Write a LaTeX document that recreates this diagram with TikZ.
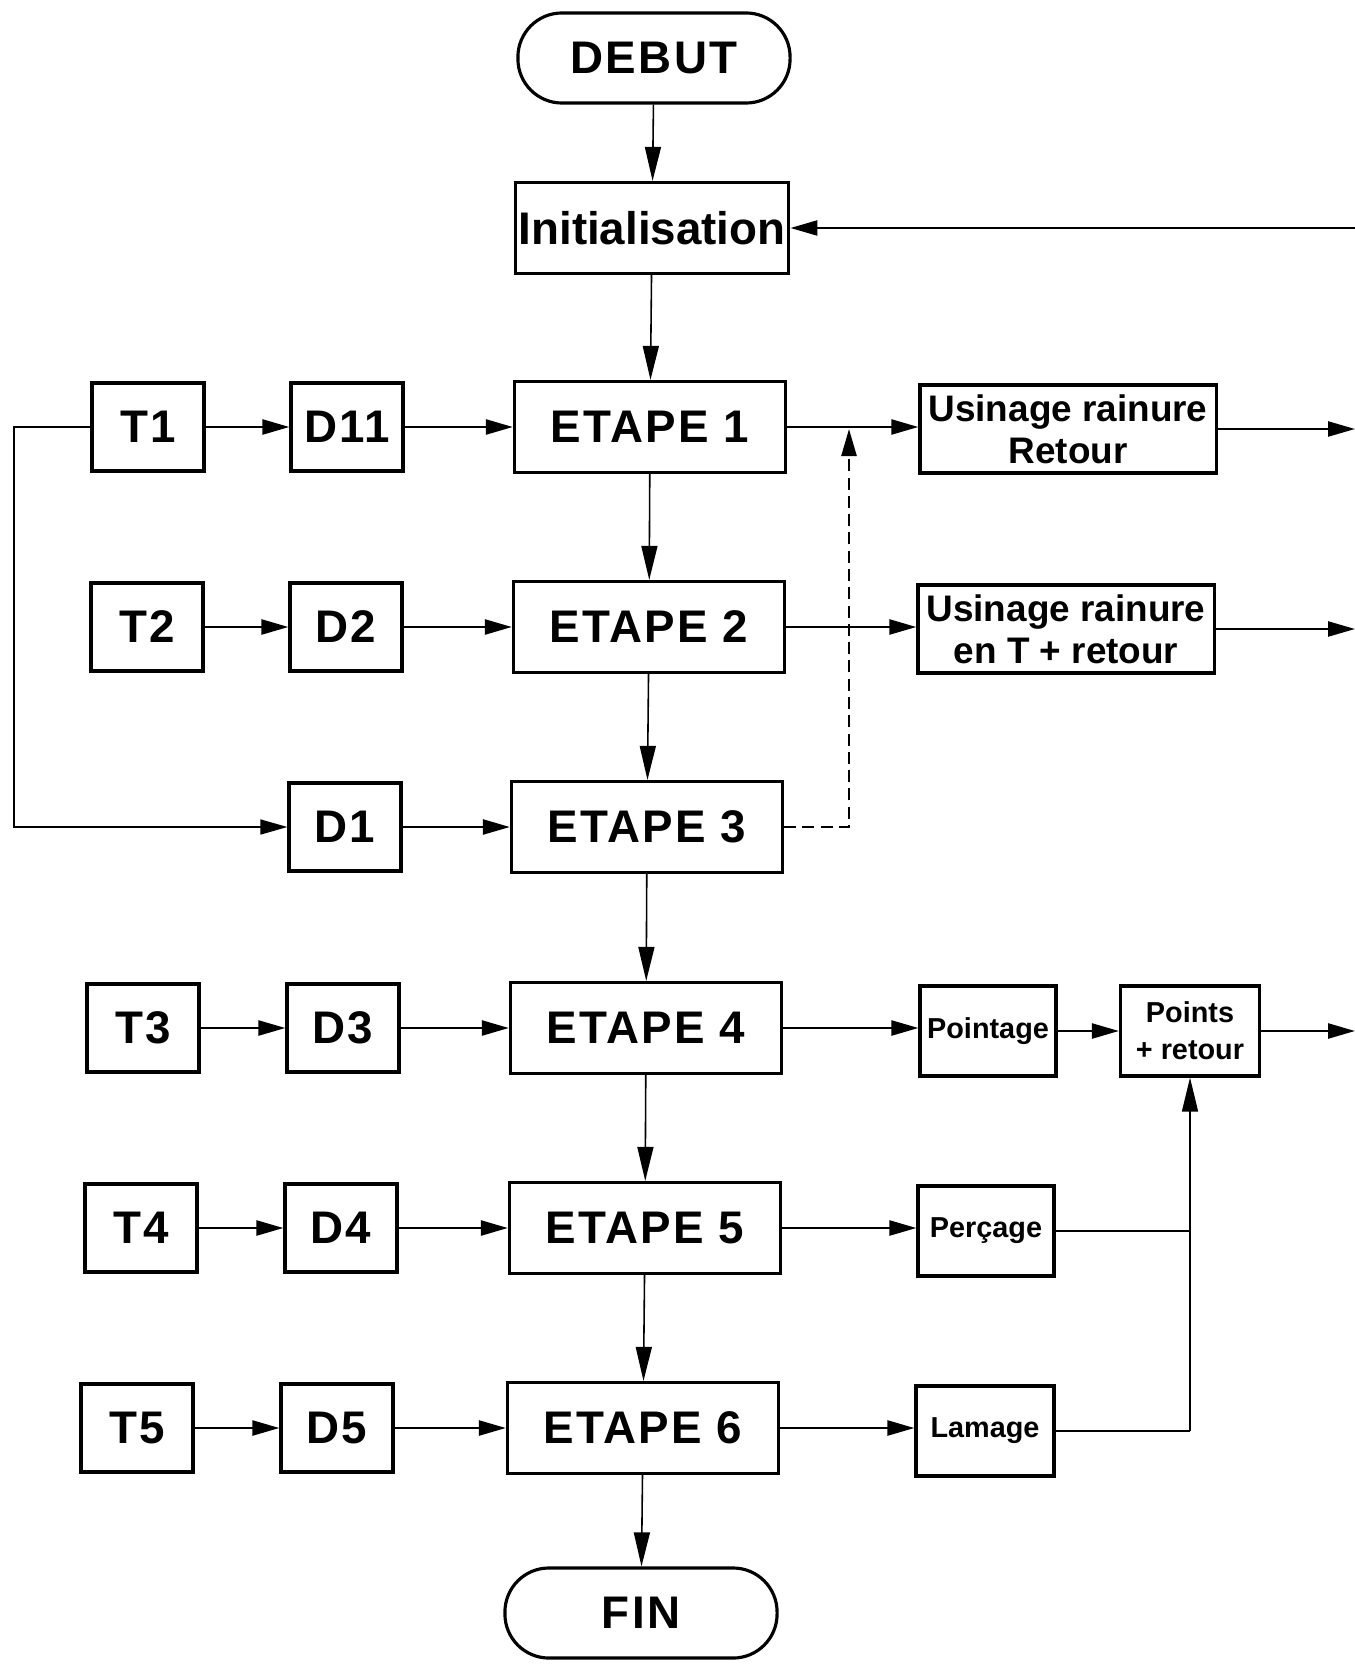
\documentclass[tikz,border=0pt]{standalone}
\usepackage{fontspec}
\setmainfont{Liberation Sans}
\usepackage{tikz}
\usetikzlibrary{arrows.meta,positioning}

\begin{document}
\begin{tikzpicture}[x=0.01cm,y=-0.01cm,>={Triangle[length=0.27cm,width=0.15cm]},
  big/.style={font=\fontsize{13}{15}\selectfont\bfseries\addfontfeatures{LetterSpace=5}},
  term/.style={draw,line width=0.9pt,big,rounded corners=0.44cm,minimum width=2.72cm,minimum height=0.9cm},
  etape/.style={draw,line width=0.9pt,big,minimum width=2.71cm,minimum height=0.91cm,inner sep=1pt},
  tbox/.style={draw,line width=0.9pt,big,minimum width=1.12cm,minimum height=0.88cm,inner sep=1pt},
  usin/.style={draw,line width=0.9pt,minimum width=2.96cm,minimum height=0.88cm,inner sep=1pt,align=center,
    font=\fontsize{10.5}{12}\selectfont\bfseries},
  op/.style={draw,line width=0.9pt,minimum width=1.36cm,minimum height=0.9cm,inner sep=1pt,align=center,
    font=\fontsize{8.2}{10.5}\selectfont\bfseries},
  fl/.style={->,line width=0.7pt},
  vfl/.style={-{Triangle[length=0.34cm,width=0.16cm]},line width=0.45pt}]

\useasboundingbox (0,0) rectangle (1355,1664);

% colonne centrale
\node[term] (debut) at (654,58) {DEBUT};
\node[etape,big,font=\fontsize{13}{15}\selectfont\bfseries] (init) at (652,228) {Initialisation};
\node[etape] (e1) at (650,427) {ETAPE 1};
\node[etape] (e2) at (649,627) {ETAPE 2};
\node[etape] (e3) at (647,827) {ETAPE 3};
\node[etape] (e4) at (646,1028) {ETAPE 4};
\node[etape] (e5) at (645,1228) {ETAPE 5};
\node[etape] (e6) at (643,1428) {ETAPE 6};
\node[term] (fin) at (641,1613) {FIN};

% temps et durees
\node[tbox] (t1) at (148,427) {T1};
\node[tbox] (d11) at (347,427) {D11};
\node[tbox] (t2) at (147,627) {T2};
\node[tbox] (d2) at (346,627) {D2};
\node[tbox] (d1) at (345,827) {D1};
\node[tbox] (t3) at (143,1028) {T3};
\node[tbox] (d3) at (343,1028) {D3};
\node[tbox] (t4) at (141,1228) {T4};
\node[tbox] (d4) at (341,1228) {D4};
\node[tbox] (t5) at (137,1428) {T5};
\node[tbox] (d5) at (337,1428) {D5};

% operations
\node[usin] (u1) at (1068,429) {Usinage rainure\\Retour};
\node[usin] (u2) at (1066,629) {Usinage rainure\\en T + retour};
\node[op] (pt) at (988,1031) {Pointage};
\node[op,minimum width=1.39cm] (pr) at (1190,1031) {Points\\+ retour};
\node[op] (pc) at (986,1231) {Perçage};
\node[op,minimum width=1.38cm] (lm) at (985,1431) {Lamage};

% points libres
\coordinate (r0) at (1355,228);
\coordinate (r1) at (1355,429);
\coordinate (r2) at (1355,629);
\coordinate (r4) at (1355,1031);
\coordinate (j1) at (849,429);
\coordinate (lp) at (14,427);

% liaisons verticales
\draw[vfl] (debut) -- (init);
\draw[vfl] (init) -- (e1);
\draw[vfl] (e1) -- (e2);
\draw[vfl] (e2) -- (e3);
\draw[vfl] (e3) -- (e4);
\draw[vfl] (e4) -- (e5);
\draw[vfl] (e5) -- (e6);
\draw[vfl] (e6) -- (fin);

% liaisons horizontales
\draw[fl] (t1) -- (d11);
\draw[fl] (d11) -- (e1);
\draw[fl] (e1.east) -- (u1.west |- e1.east);
\draw[fl] (u1.east |- r1) -- (r1);
\draw[fl] (r0) -- (init);
\draw[fl] (t2) -- (d2);
\draw[fl] (d2) -- (e2);
\draw[fl] (e2.east) -- (u2.west |- e2.east);
\draw[fl] (u2.east |- r2) -- (r2);
\draw[line width=0.45pt,->] (t1.west) -- (lp) |- (d1.west);
\draw[fl] (d1) -- (e3);
\draw[line width=0.7pt,dash pattern=on 3.4pt off 1.8pt,->] (e3.east) -| (j1);
\draw[fl] (t3) -- (d3);
\draw[fl] (d3) -- (e4);
\draw[fl] (e4.east) -- (pt.west |- e4.east);
\draw[fl] (pt) -- (pr);
\draw[fl] (pr) -- (r4);
\draw[fl] (t4) -- (d4);
\draw[fl] (d4) -- (e5);
\draw[fl] (e5.east) -- (pc.west |- e5.east);
\draw[line width=0.7pt] (pc.east) -- (pc.east -| pr.south);
\draw[fl] (t5) -- (d5);
\draw[fl] (d5) -- (e6);
\draw[fl] (e6.east) -- (lm.west |- e6.east);
\draw[line width=0.7pt] (lm.east) -- (lm.east -| pr.south);
\draw[vfl] (lm.east -| pr.south) -- (pr.south);
\end{tikzpicture}
\end{document}
